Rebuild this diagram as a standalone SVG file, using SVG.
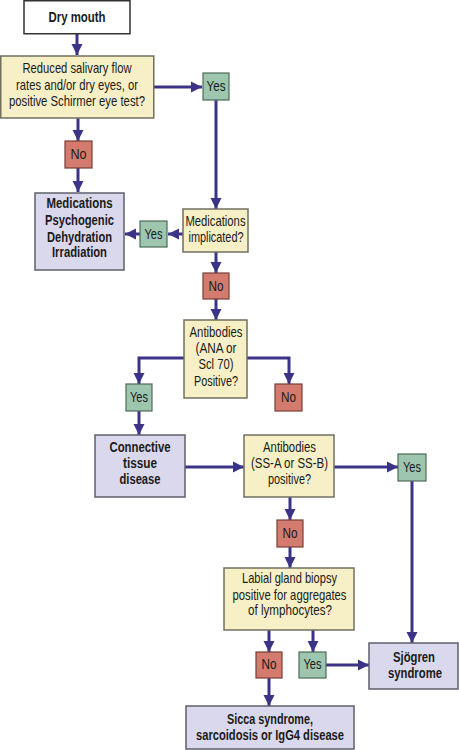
<svg xmlns="http://www.w3.org/2000/svg" width="459" height="750" viewBox="0 0 459 750">
<defs>
<marker id="ah" markerUnits="userSpaceOnUse" markerWidth="12" markerHeight="12" viewBox="0 0 12 12" refX="11" refY="6" orient="auto">
<path d="M0,0.5 L11,6 L0,11.5 Z" fill="#3b3486"/>
</marker>
<style>
.q{fill:#f7efc6;stroke:#707060;stroke-width:1.5}
.r{fill:#d9d8ec;stroke:#5f5f6e;stroke-width:1.5}
.w{fill:#ffffff;stroke:#333;stroke-width:1.5}
.y{fill:#9ec6ae;stroke:#4e6a58;stroke-width:1.2}
.n{fill:#d37b6e;stroke:#7a3e36;stroke-width:1.2}
text{font-family:"Liberation Sans",Arial,sans-serif;font-size:14.5px;fill:#1a1a1a;text-anchor:middle}
.b{font-weight:bold;font-size:14px}
.c line,.c path{stroke:#3b3486;stroke-width:3;fill:none;marker-end:url(#ah)}
</style>
</defs>
<g class="c" id="connectors">
<line x1="77" y1="34" x2="77" y2="55"/>
<line x1="154" y1="87" x2="202" y2="87"/>
<line x1="78" y1="118" x2="78" y2="141"/>
<line x1="78" y1="168" x2="78" y2="192"/>
<line x1="216" y1="100" x2="216" y2="209"/>
<line x1="183" y1="234" x2="168" y2="234"/>
<line x1="140" y1="234" x2="125" y2="234"/>
<line x1="216" y1="252" x2="216" y2="273"/>
<line x1="216" y1="299" x2="216" y2="320"/>
<path d="M184,358 H139 V384"/>
<path d="M247,358 H289 V384"/>
<line x1="139" y1="411" x2="139" y2="435"/>
<line x1="185" y1="467" x2="244" y2="467"/>
<line x1="334" y1="467" x2="398" y2="467"/>
<line x1="412" y1="481" x2="412" y2="643"/>
<line x1="290" y1="497" x2="290" y2="520"/>
<line x1="290" y1="547" x2="290" y2="568"/>
<line x1="269" y1="630" x2="269" y2="652"/>
<line x1="313" y1="630" x2="313" y2="652"/>
<line x1="326" y1="665" x2="369" y2="665"/>
<line x1="269" y1="678" x2="269" y2="706"/>
</g>
<g id="dry-mouth"><rect class="w" x="24" y="0.75" width="106" height="33"/><text class="b" x="77" y="22" textLength="57" lengthAdjust="spacingAndGlyphs">Dry mouth</text></g>
<g id="q-flow"><rect class="q" x="0.75" y="56" width="153" height="62"/>
<text x="77" y="73" textLength="109" lengthAdjust="spacingAndGlyphs">Reduced salivary flow</text>
<text x="77" y="90" textLength="122" lengthAdjust="spacingAndGlyphs">rates and/or dry eyes, or</text>
<text x="77" y="106" textLength="136" lengthAdjust="spacingAndGlyphs">positive Schirmer eye test?</text></g>
<g id="yes1"><rect class="y" x="203" y="73" width="26" height="27"/><text x="216" y="91" textLength="19" lengthAdjust="spacingAndGlyphs">Yes</text></g>
<g id="no1"><rect class="n" x="65" y="141" width="27" height="27"/><text x="78.5" y="159" textLength="16" lengthAdjust="spacingAndGlyphs">No</text></g>
<g id="medications"><rect class="r" x="35" y="193" width="89" height="77"/>
<text class="b" x="79.5" y="208" textLength="66" lengthAdjust="spacingAndGlyphs">Medications</text>
<text class="b" x="79.5" y="225" textLength="69" lengthAdjust="spacingAndGlyphs">Psychogenic</text>
<text class="b" x="79.5" y="241.5" textLength="65" lengthAdjust="spacingAndGlyphs">Dehydration</text>
<text class="b" x="79.5" y="257" textLength="55" lengthAdjust="spacingAndGlyphs">Irradiation</text></g>
<g id="yes2"><rect class="y" x="140" y="221" width="27" height="26"/><text x="153.5" y="238.5" textLength="18" lengthAdjust="spacingAndGlyphs">Yes</text></g>
<g id="q-med"><rect class="q" x="183" y="209" width="65" height="43"/>
<text x="215.5" y="226" textLength="60" lengthAdjust="spacingAndGlyphs">Medications</text>
<text x="216" y="242" textLength="55" lengthAdjust="spacingAndGlyphs">implicated?</text></g>
<g id="no2"><rect class="n" x="203" y="273" width="26" height="26"/><text x="216" y="290.5" textLength="15" lengthAdjust="spacingAndGlyphs">No</text></g>
<g id="q-ana"><rect class="q" x="184" y="320" width="63" height="78"/>
<text x="216" y="337" textLength="53" lengthAdjust="spacingAndGlyphs">Antibodies</text>
<text x="216" y="353" textLength="41" lengthAdjust="spacingAndGlyphs">(ANA or</text>
<text x="216" y="369" textLength="35" lengthAdjust="spacingAndGlyphs">Scl 70)</text>
<text x="216" y="386" textLength="44" lengthAdjust="spacingAndGlyphs">Positive?</text></g>
<g id="yes3"><rect class="y" x="126" y="384" width="26" height="27"/><text x="139" y="401.5" textLength="18" lengthAdjust="spacingAndGlyphs">Yes</text></g>
<g id="no3"><rect class="n" x="275" y="384" width="27" height="27"/><text x="288.5" y="401.5" textLength="15" lengthAdjust="spacingAndGlyphs">No</text></g>
<g id="connective"><rect class="r" x="95" y="435" width="90" height="62"/>
<text class="b" x="140" y="452" textLength="61" lengthAdjust="spacingAndGlyphs">Connective</text>
<text class="b" x="140" y="468" textLength="34" lengthAdjust="spacingAndGlyphs">tissue</text>
<text class="b" x="140" y="483.5" textLength="41" lengthAdjust="spacingAndGlyphs">disease</text></g>
<g id="q-ss"><rect class="q" x="244" y="435" width="90" height="62"/>
<text x="289.5" y="452" textLength="53" lengthAdjust="spacingAndGlyphs">Antibodies</text>
<text x="289.5" y="468" textLength="77" lengthAdjust="spacingAndGlyphs">(SS-A or SS-B)</text>
<text x="289.5" y="483.5" textLength="43" lengthAdjust="spacingAndGlyphs">positive?</text></g>
<g id="yes4"><rect class="y" x="398" y="454" width="28" height="27"/><text x="412" y="472" textLength="18" lengthAdjust="spacingAndGlyphs">Yes</text></g>
<g id="no4"><rect class="n" x="277" y="520" width="26" height="27"/><text x="290" y="537.5" textLength="15" lengthAdjust="spacingAndGlyphs">No</text></g>
<g id="q-biopsy"><rect class="q" x="224" y="568" width="130" height="62"/>
<text x="289.5" y="583" textLength="95" lengthAdjust="spacingAndGlyphs">Labial gland biopsy</text>
<text x="289.5" y="600" textLength="114" lengthAdjust="spacingAndGlyphs">positive for aggregates</text>
<text x="290" y="615" textLength="84" lengthAdjust="spacingAndGlyphs">of lymphocytes?</text></g>
<g id="no5"><rect class="n" x="256" y="652" width="26" height="26"/><text x="269" y="669" textLength="15" lengthAdjust="spacingAndGlyphs">No</text></g>
<g id="yes5"><rect class="y" x="299" y="652" width="27" height="26"/><text x="312.5" y="669" textLength="18" lengthAdjust="spacingAndGlyphs">Yes</text></g>
<g id="sjogren"><rect class="r" x="369" y="643" width="89" height="46"/>
<text class="b" x="414" y="662" textLength="42" lengthAdjust="spacingAndGlyphs">Sjögren</text>
<text class="b" x="415" y="677.5" textLength="54" lengthAdjust="spacingAndGlyphs">syndrome</text></g>
<g id="sicca"><rect class="r" x="186" y="706" width="168" height="43"/>
<text class="b" x="270" y="724" textLength="86" lengthAdjust="spacingAndGlyphs">Sicca syndrome,</text>
<text class="b" x="270" y="740" textLength="148" lengthAdjust="spacingAndGlyphs">sarcoidosis or IgG4 disease</text></g>
</svg>
